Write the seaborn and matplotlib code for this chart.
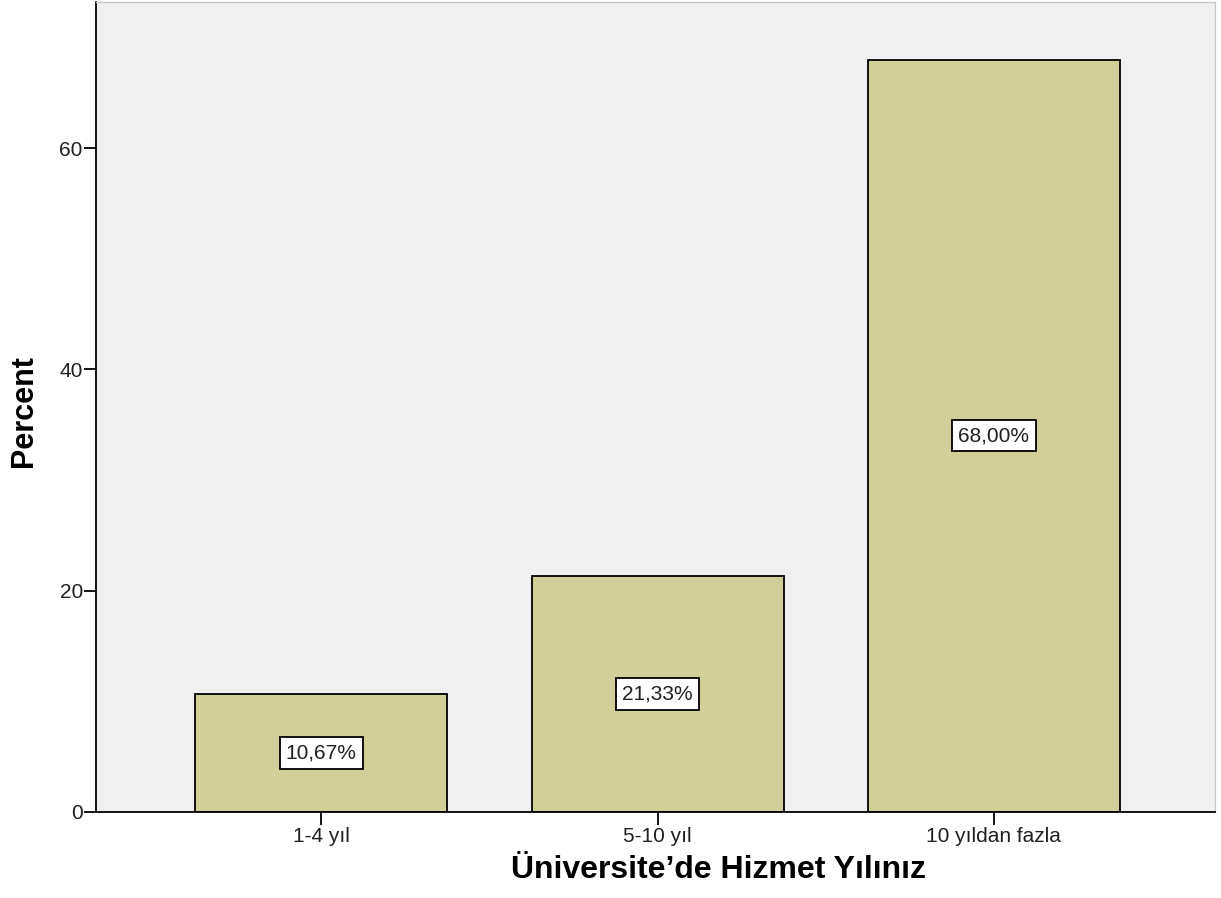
import matplotlib
matplotlib.use("Agg")
import matplotlib.pyplot as plt
import seaborn as sns
import pandas as pd

# --- data ---
categories = ["1-4 yıl", "5-10 yıl", "10 yıldan fazla"]
percents = [10.67, 21.33, 68.00]
bar_labels = ["10,67%", "21,33%", "68,00%"]
y_ticks = [0, 20, 40, 60]

sns.set_style("white")
plt.rcParams["font.family"] = ["Liberation Sans", "DejaVu Sans"]
plt.rcParams["text.color"] = "black"
plt.rcParams["axes.labelcolor"] = "black"

df = pd.DataFrame({"cat": categories, "pct": percents})

fig = plt.figure(figsize=(12.21, 8.98), dpi=100)
ax = fig.add_axes([0.0786, 0.0958, 0.9164, 0.902])
ax.set_facecolor("#f0f0f0")

sns.barplot(data=df, x="cat", y="pct", order=categories, color="#d3cf98",
            saturation=1, width=0.75, edgecolor="black", linewidth=1.3, ax=ax)

for i, (v, lab) in enumerate(zip(percents, bar_labels)):
    ax.text(i, v / 2, lab, ha="center", va="center", fontsize=15, color="#202020",
            bbox=dict(boxstyle="square,pad=0.3", fc="white", ec="black", lw=1.3))

ax.set_xlim(-0.67, 2.657)
ax.set_ylim(0, 73.2)
ax.set_yticks(y_ticks)
ax.tick_params(axis="both", direction="out", length=9, width=1.3, colors="black",
               labelsize=15, left=True, bottom=True)
ax.tick_params(axis="x", pad=2)
ax.tick_params(axis="y", pad=0.5)
for t in ax.get_xticklabels() + ax.get_yticklabels():
    t.set_color("#202020")

ax.set_xlabel("Üniversite’de Hizmet Yılınız", fontsize=23, fontweight="bold", va="center")
ax.xaxis.set_label_coords(0.556, -0.0717)
ax.set_ylabel("Percent", fontsize=22, fontweight="bold", va="center")
ax.yaxis.set_label_coords(-0.0643, 0.495)

for s in ["left", "bottom"]:
    ax.spines[s].set_color("black")
    ax.spines[s].set_linewidth(1.3)
for s in ["top", "right"]:
    ax.spines[s].set_color("#c8c8c8")
    ax.spines[s].set_linewidth(1.0)

fig.savefig("out.png", dpi=100)
